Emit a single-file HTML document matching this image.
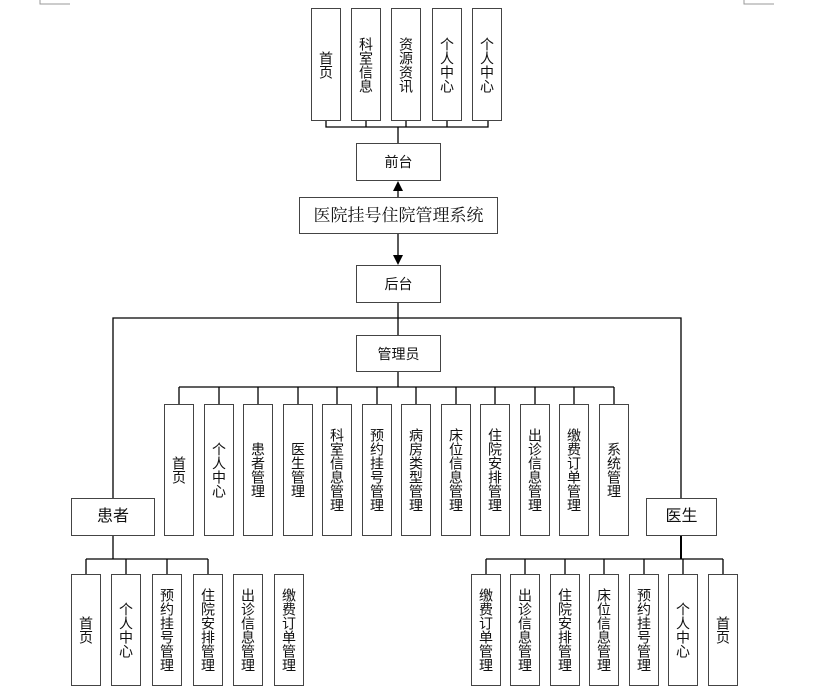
<!DOCTYPE html>
<html><head><meta charset="utf-8"><style>
html,body{margin:0;padding:0;background:#fff;}
#c{position:relative;width:830px;height:697px;overflow:hidden;font-family:"Liberation Sans","Noto Sans CJK SC",sans-serif;color:#111;}
.b{position:absolute;box-sizing:border-box;border:1.5px solid #444;background:#fff;display:flex;align-items:center;justify-content:center;font-size:14px;line-height:16px;text-align:center;}
.v{width:30px;writing-mode:vertical-rl;letter-spacing:0;}
.v span{display:block;}
svg{position:absolute;left:0;top:0;}
</style></head><body><div id="c">
<svg width="830" height="697">
<g stroke="#000" stroke-width="1.3" fill="none">
<!-- top -->
<polyline points="326,121 326,127 488,127 488,121"/>
<line x1="366" y1="121" x2="366" y2="127"/><line x1="406" y1="121" x2="406" y2="127"/><line x1="447" y1="121" x2="447" y2="127"/>
<line x1="398" y1="127" x2="398" y2="143"/>
<line x1="398" y1="186" x2="398" y2="197"/>
<line x1="398" y1="234" x2="398" y2="255"/>
<line x1="398" y1="303" x2="398" y2="335"/>
<polyline points="113,498 113,318 681,318 681,498"/>
<!-- admin -->
<line x1="398" y1="372" x2="398" y2="387"/>
<line x1="179" y1="387" x2="614" y2="387"/>
<line x1="179" y1="387" x2="179" y2="404"/><line x1="219" y1="387" x2="219" y2="404"/><line x1="258" y1="387" x2="258" y2="404"/><line x1="298" y1="387" x2="298" y2="404"/><line x1="337" y1="387" x2="337" y2="404"/><line x1="377" y1="387" x2="377" y2="404"/><line x1="416" y1="387" x2="416" y2="404"/><line x1="456" y1="387" x2="456" y2="404"/><line x1="495" y1="387" x2="495" y2="404"/><line x1="535" y1="387" x2="535" y2="404"/><line x1="574" y1="387" x2="574" y2="404"/><line x1="614" y1="387" x2="614" y2="404"/>
<!-- patient -->
<line x1="113" y1="536" x2="113" y2="559"/>
<line x1="86" y1="559" x2="208" y2="559"/>
<line x1="86" y1="559" x2="86" y2="574"/><line x1="126" y1="559" x2="126" y2="574"/><line x1="167" y1="559" x2="167" y2="574"/><line x1="208" y1="559" x2="208" y2="574"/>
<!-- doctor -->
<line x1="681" y1="536" x2="681" y2="559" stroke-width="2"/>
<line x1="486" y1="559" x2="723" y2="559"/>
<line x1="486" y1="559" x2="486" y2="574"/><line x1="525" y1="559" x2="525" y2="574"/><line x1="565" y1="559" x2="565" y2="574"/><line x1="604" y1="559" x2="604" y2="574"/><line x1="644" y1="559" x2="644" y2="574"/><line x1="683" y1="559" x2="683" y2="574"/><line x1="723" y1="559" x2="723" y2="574"/>
</g>
<polygon points="398,181 393,191 403,191" fill="#000"/>
<polygon points="398,265 393,255 403,255" fill="#000"/>
<g stroke="#999" stroke-width="1" fill="none">
<polyline points="40,0 40,4 70,4"/><polyline points="744,0 744,4 774,4"/>
</g>
</svg>

<div class="b v" style="left:311px;top:8px;height:113px">首页</div>
<div class="b v" style="left:351px;top:8px;height:113px">科室信息</div>
<div class="b v" style="left:391px;top:8px;height:113px">资源资讯</div>
<div class="b v" style="left:432px;top:8px;height:113px">个人中心</div>
<div class="b v" style="left:472px;top:8px;height:113px">个人中心</div>
<div class="b" style="left:356px;top:143px;width:85px;height:38px">前台</div>
<div class="b" style="left:299px;top:197px;width:199px;height:37px;font-size:17px;font-family:'Liberation Serif','Noto Serif CJK SC',serif">医院挂号住院管理系统</div>
<div class="b" style="left:356px;top:265px;width:85px;height:38px">后台</div>
<div class="b" style="left:356px;top:335px;width:85px;height:37px">管理员</div>

<div class="b v" style="left:164px;top:404px;height:132px">首页</div>
<div class="b v" style="left:204px;top:404px;height:132px">个人中心</div>
<div class="b v" style="left:243px;top:404px;height:132px">患者管理</div>
<div class="b v" style="left:283px;top:404px;height:132px">医生管理</div>
<div class="b v" style="left:322px;top:404px;height:132px">科室信息管理</div>
<div class="b v" style="left:362px;top:404px;height:132px">预约挂号管理</div>
<div class="b v" style="left:401px;top:404px;height:132px">病房类型管理</div>
<div class="b v" style="left:441px;top:404px;height:132px">床位信息管理</div>
<div class="b v" style="left:480px;top:404px;height:132px">住院安排管理</div>
<div class="b v" style="left:520px;top:404px;height:132px">出诊信息管理</div>
<div class="b v" style="left:559px;top:404px;height:132px">缴费订单管理</div>
<div class="b v" style="left:599px;top:404px;height:132px">系统管理</div>

<div class="b" style="left:71px;top:498px;width:84px;height:38px;font-size:16px">患者</div>
<div class="b" style="left:646px;top:498px;width:71px;height:38px;font-size:16px">医生</div>

<div class="b v" style="left:71px;top:574px;height:112px">首页</div>
<div class="b v" style="left:111px;top:574px;height:112px">个人中心</div>
<div class="b v" style="left:152px;top:574px;height:112px">预约挂号管理</div>
<div class="b v" style="left:193px;top:574px;height:112px">住院安排管理</div>
<div class="b v" style="left:233px;top:574px;height:112px">出诊信息管理</div>
<div class="b v" style="left:274px;top:574px;height:112px">缴费订单管理</div>

<div class="b v" style="left:471px;top:574px;height:112px">缴费订单管理</div>
<div class="b v" style="left:510px;top:574px;height:112px">出诊信息管理</div>
<div class="b v" style="left:550px;top:574px;height:112px">住院安排管理</div>
<div class="b v" style="left:589px;top:574px;height:112px">床位信息管理</div>
<div class="b v" style="left:629px;top:574px;height:112px">预约挂号管理</div>
<div class="b v" style="left:668px;top:574px;height:112px">个人中心</div>
<div class="b v" style="left:708px;top:574px;height:112px">首页</div>
</div></body></html>
